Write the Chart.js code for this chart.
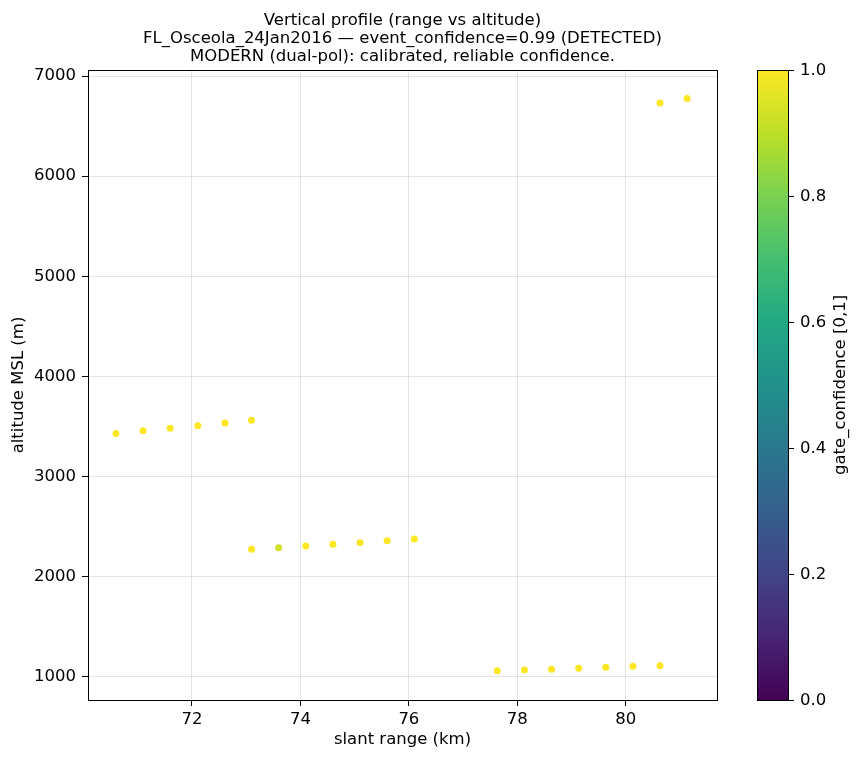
<!DOCTYPE html>
<html>
<head>
<meta charset="utf-8">
<script src="https://cdn.jsdelivr.net/npm/chart.js@4.4.0/dist/chart.umd.min.js"></script>
<style>
html,body{margin:0;padding:0;background:#fff;}
#wrap{width:860px;height:760px;}
</style>
</head>
<body>
<div id="wrap"><canvas id="c" width="860" height="760"></canvas></div>
<script>
// ---- data ----
const rangeKm = [70.60, 71.10, 71.60, 72.11, 72.61, 73.10,
                 73.10, 73.60, 74.10, 74.60, 75.10, 75.60, 76.10,
                 77.63, 78.13, 78.63, 79.13, 79.63, 80.13, 80.63,
                 80.63, 81.13];
const altitudeM = [3432, 3458, 3482, 3508, 3535, 3562,
                   2274, 2290, 2307, 2324, 2340, 2360, 2377,
                   1063, 1070, 1077, 1087, 1097, 1107, 1113,
                   6731, 6775];
const gateConfidence = [1.0, 1.0, 1.0, 1.0, 1.0, 1.0,
                        1.0, 0.93, 1.0, 1.0, 0.99, 1.0, 1.0,
                        1.0, 1.0, 1.0, 0.99, 1.0, 1.0, 1.0,
                        1.0, 1.0];
const xTicks = [72, 74, 76, 78, 80];
const yTicks = [1000, 2000, 3000, 4000, 5000, 6000, 7000];
const cbTicks = [0.0, 0.2, 0.4, 0.6, 0.8, 1.0];
const titleLines = ["Vertical profile (range vs altitude)",
  "FL_Osceola_24Jan2016 \u2014 event_confidence=0.99 (DETECTED)",
  "MODERN (dual-pol): calibrated, reliable confidence."];
const xLabel = "slant range (km)";
const yLabel = "altitude MSL (m)";
const cbLabel = "gate_confidence [0,1]";

// viridis colormap stops
const viridis = ["#440154","#482475","#414487","#355f8d","#2a788e","#21918c",
                 "#22a884","#44bf70","#7ad151","#bddf26","#fde725"];
function hex(h){return [parseInt(h.slice(1,3),16),parseInt(h.slice(3,5),16),parseInt(h.slice(5,7),16)];}
function cmap(v){
  v=Math.max(0,Math.min(1,v));
  const p=v*(viridis.length-1), i=Math.min(Math.floor(p),viridis.length-2), f=p-i;
  const a=hex(viridis[i]), b=hex(viridis[i+1]);
  return 'rgb('+a.map((c,k)=>Math.round(c+(b[k]-c)*f)).join(',')+')';
}

const FONT = "'DejaVu Sans', sans-serif";
const FS = 16.5;
const points = rangeKm.map((x,i)=>({x:x, y:altitudeM[i]}));
const colors = gateConfidence.map(cmap);

const deco = {
  id:'deco',
  afterDraw(chart){
    const ctx=chart.ctx, a=chart.chartArea;
    ctx.save();
    // frame
    ctx.strokeStyle='#000'; ctx.lineWidth=1;
    ctx.strokeRect(Math.round(a.left)+0.5, Math.round(a.top)+0.5, Math.round(a.right-a.left), Math.round(a.bottom-a.top));
    // title
    ctx.fillStyle='#000'; ctx.font=FS+'px '+FONT; ctx.textAlign='center'; ctx.textBaseline='alphabetic';
    titleLines.forEach((t,i)=>ctx.fillText(t, (a.left+a.right)/2, 25+i*18));
    // colorbar
    const cx0=757, cx1=788, cy0=a.top, cy1=a.bottom;
    const g=ctx.createLinearGradient(0,cy1,0,cy0);
    viridis.forEach((c,i)=>g.addColorStop(i/(viridis.length-1), c));
    ctx.fillStyle=g; ctx.fillRect(cx0,cy0,cx1-cx0,cy1-cy0);
    ctx.strokeStyle='#000'; ctx.lineWidth=1;
    ctx.strokeRect(cx0+0.5, Math.round(cy0)+0.5, cx1-cx0, Math.round(cy1-cy0));
    ctx.fillStyle='#000'; ctx.textAlign='left'; ctx.textBaseline='middle'; ctx.font=FS+'px '+FONT;
    cbTicks.forEach(v=>{
      const y=Math.round(cy1-(cy1-cy0)*v)+0.5;
      ctx.beginPath(); ctx.moveTo(cx1,y); ctx.lineTo(cx1+6,y); ctx.stroke();
      ctx.fillText(v.toFixed(1), cx1+12, y);
    });
    ctx.translate(841,(cy0+cy1)/2); ctx.rotate(-Math.PI/2);
    ctx.textAlign='center'; ctx.fillText(cbLabel,0,0);
    ctx.restore();
  }
};

new Chart(document.getElementById('c'), {
  type:'scatter',
  data:{datasets:[{data:points, pointBackgroundColor:colors, pointBorderColor:colors,
                   pointBorderWidth:0, pointRadius:3.5, pointHoverRadius:3.5}]},
  options:{
    responsive:false, animation:false, devicePixelRatio:1,
    layout:{padding:{top:70,right:143,left:0,bottom:0}},
    plugins:{legend:{display:false}, tooltip:{enabled:false}, title:{display:false}},
    scales:{
      x:{type:'linear', min:70.085, max:81.68,
         afterFit(s){s.height=60;},
         afterBuildTicks(s){s.ticks=xTicks.map(v=>({value:v}));},
         ticks:{color:'#000', font:{family:FONT,size:FS}, padding:4, maxRotation:0,
                callback:v=>String(v)},
         grid:{color:'rgba(170,170,170,0.3)', tickColor:'#000', tickLength:6, lineWidth:1},
         border:{color:'#000'},
         title:{display:true, text:xLabel, color:'#000', font:{family:FONT,size:FS}, padding:{top:0,bottom:10}}},
      y:{type:'linear', min:770, max:7060,
         afterFit(s){s.width=88;},
         afterBuildTicks(s){s.ticks=yTicks.map(v=>({value:v}));},
         ticks:{color:'#000', font:{family:FONT,size:FS}, padding:6, callback:v=>String(v)},
         grid:{color:'rgba(170,170,170,0.3)', tickColor:'#000', tickLength:6, lineWidth:1},
         border:{color:'#000'},
         title:{display:true, text:yLabel, color:'#000', font:{family:FONT,size:FS}, padding:{top:9,bottom:0}}}
    }
  },
  plugins:[deco]
});
</script>
</body>
</html>
